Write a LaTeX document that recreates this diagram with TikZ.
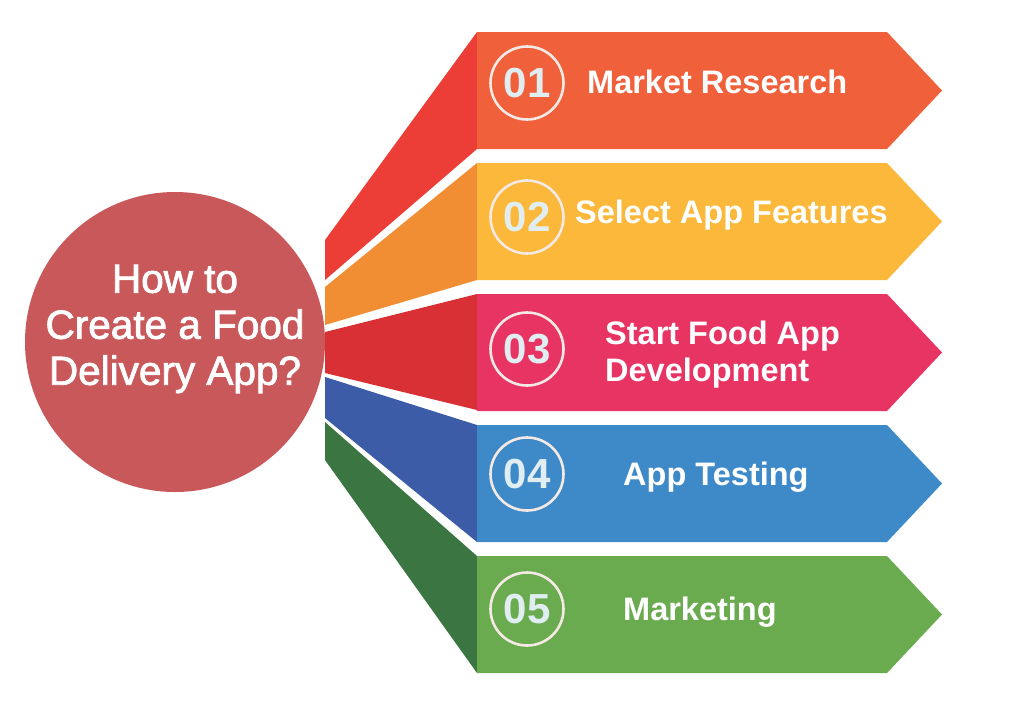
\documentclass[tikz,border=0pt]{standalone}
\usepackage{fontspec}
\setmainfont{Liberation Sans}
\newfontfamily\hubfont[FakeBold=2]{Liberation Sans}
\begin{document}
\begin{tikzpicture}[x=1pt,y=-1pt,
  numring/.style={circle,draw=ringc,line width=2.6pt,minimum size=73pt,inner sep=0pt,
     text=digitc,font=\bfseries\fontsize{42}{42}\selectfont},
  lbl/.style={text=white,font=\bfseries\fontsize{32.5}{37}\selectfont,anchor=west,align=left,inner sep=0pt},
  hub/.style={circle,fill=hubc,minimum size=300pt,inner sep=0pt},
  hubtext/.style={text=white,align=center,inner sep=0pt,
     font=\hubfont\fontsize{40.5}{46}\selectfont}]
\definecolor{hubc}{HTML}{C9585A}
\definecolor{ringc}{HTML}{F4E9E4}
\definecolor{digitc}{HTML}{E0EEF2}
\definecolor{bA}{HTML}{F0603A}\definecolor{fA}{HTML}{EC3D36}
\definecolor{bB}{HTML}{FBB83A}\definecolor{fB}{HTML}{F18E33}
\definecolor{bC}{HTML}{E83463}\definecolor{fC}{HTML}{D93036}
\definecolor{bD}{HTML}{3E8AC8}\definecolor{fD}{HTML}{3C5CA8}
\definecolor{bE}{HTML}{6BAB4F}\definecolor{fE}{HTML}{3A7542}
\useasboundingbox[fill=white] (0,0) rectangle (1024,713);

% fold panels
\fill[fA] (325,240) -- (477,32) -- (477,149) -- (325,280) -- cycle;
\fill[fB] (325,287) -- (477,163) -- (477,280) -- (325,325) -- cycle;
\fill[fC] (325,332) -- (477,294) -- (477,410) -- (325,373) -- cycle;
\fill[fD] (325,377) -- (477,425) -- (477,542) -- (325,418) -- cycle;
\fill[fE] (325,422) -- (477,556) -- (477,673) -- (325,460) -- cycle;

% banners
\foreach \c/\t in {bA/32,bB/163,bC/294,bD/425,bE/556}{
  \fill[\c] (477,\t) -- (887,\t) -- (942,\t+58.5) -- (887,\t+117) -- (477,\t+117) -- cycle;
}

% hub
\node[hub] (hub) at (175,342) {};
\node[hubtext] (hubt) at (175,329) {How to\\Create a Food\\Delivery App?};

% numbers
\node[numring] (n1) at (527,83) {01};
\node[numring] (n2) at (527,217) {02};
\node[numring] (n3) at (527,349) {03};
\node[numring] (n4) at (527,474) {04};
\node[numring] (n5) at (527,609) {05};

% labels
\node[lbl] (l1) at (587,82) {Market Research};
\node[lbl] (l2) at (575,215) {Select App Features};
\node[lbl] (l3) at (605,355) {Start Food App\\Development};
\node[lbl] (l4) at (623,477) {App Testing};
\node[lbl] (l5) at (623,612) {Marketing};
\end{tikzpicture}
\end{document}
